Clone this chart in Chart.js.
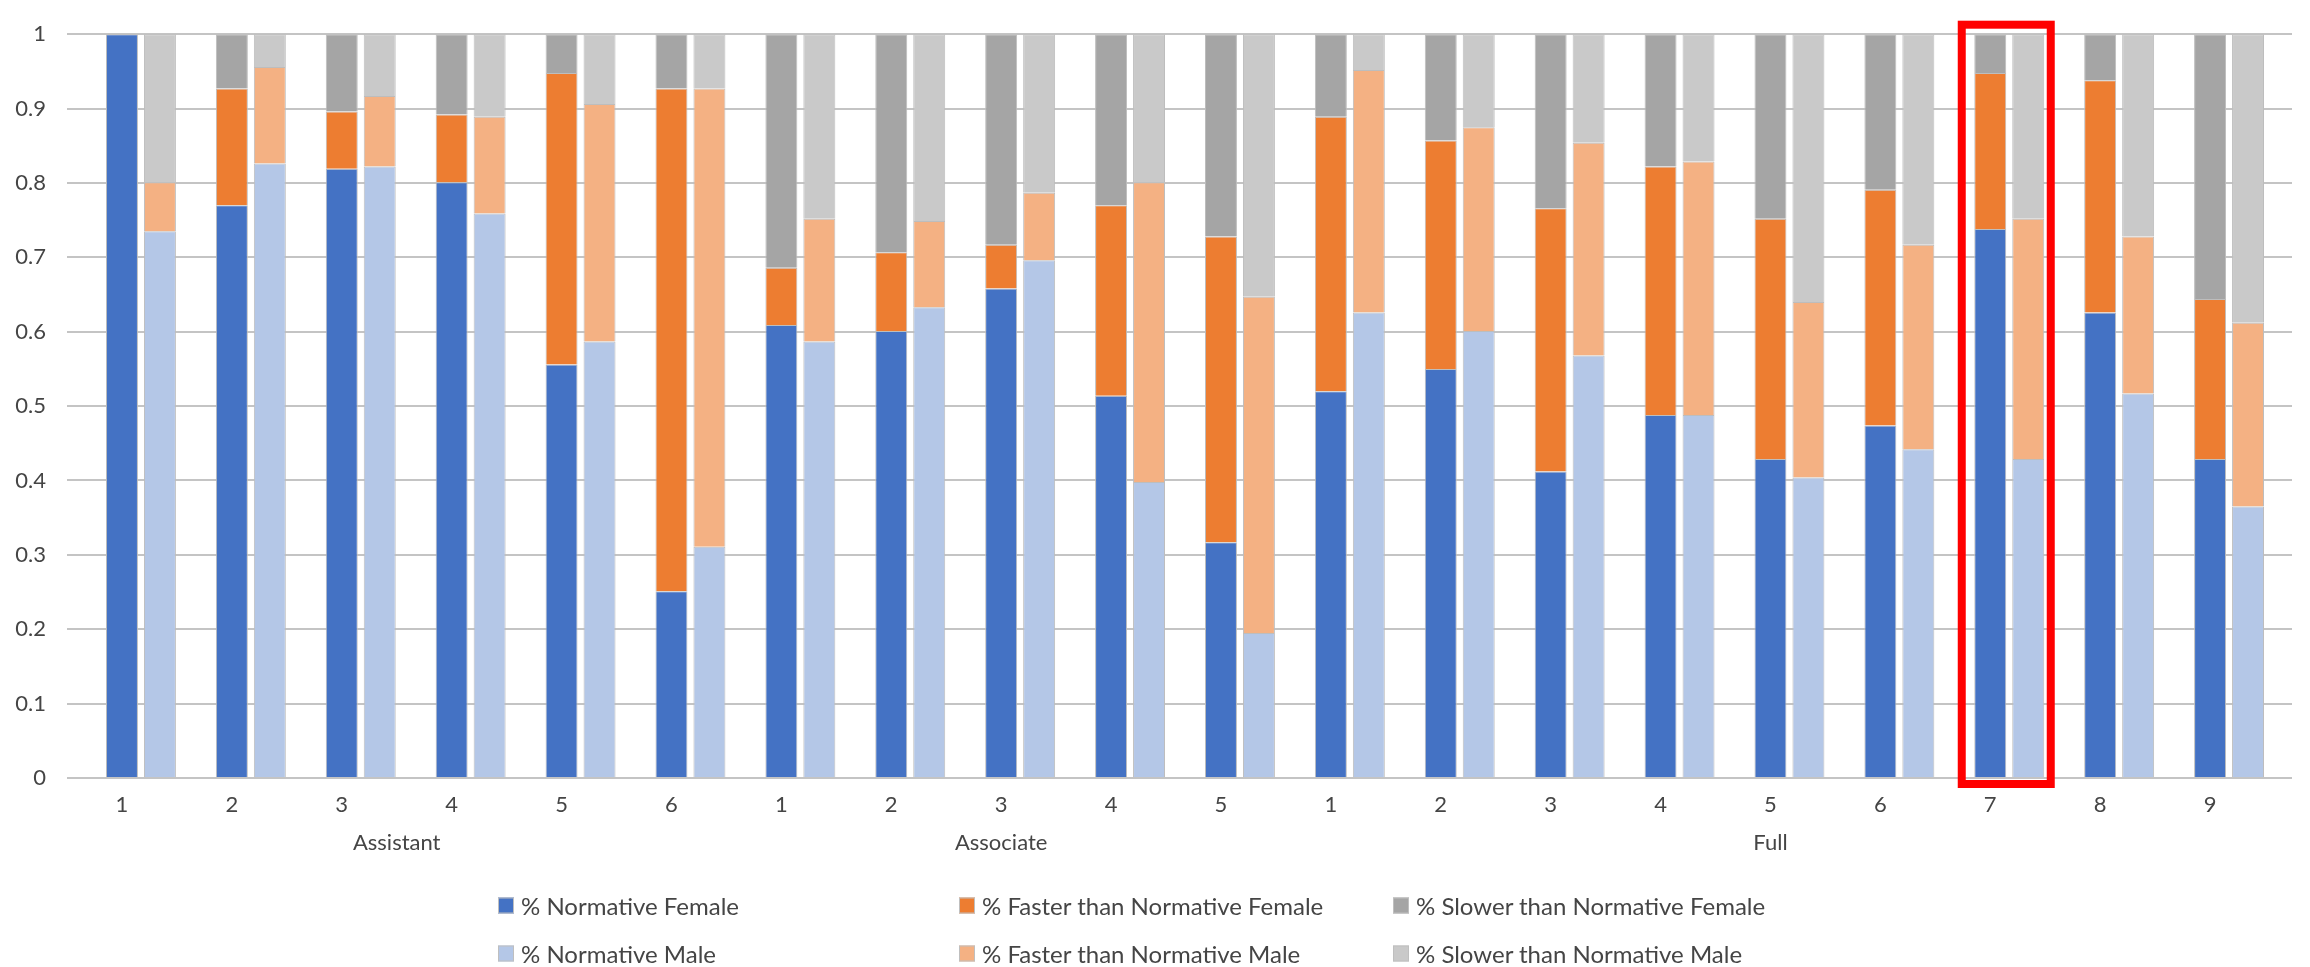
<!DOCTYPE html>
<html>
<head>
<meta charset="utf-8">
<title>Normative vs faster/slower progression by rank</title>
<script src="https://cdn.jsdelivr.net/npm/chart.js@4.4.1/dist/chart.umd.min.js"></script>
<style>
  html, body { margin: 0; padding: 0; background: #ffffff; }
  #wrap { position: relative; width: 2310px; height: 967px; overflow: hidden; }
  #c { position: absolute; left: 0; top: 0; }
  #legend { position: absolute; left: 0; top: 0; width: 2310px; height: 967px; pointer-events: none;
            font-family: Lato, "Open Sans", sans-serif; font-size: 24px; color: #454545; }
  .item { position: absolute; display: flex; align-items: center; white-space: nowrap; transform: translateY(-50%); }
  .sw { width: 16px; height: 16px; margin-right: 7px; box-sizing: border-box; border: 1px solid #bfbfbf; }
</style>
</head>
<body>
<div id="wrap">
  <canvas id="c" width="2310" height="967"></canvas>
  <div id="legend"></div>
</div>
<script>
// Category tick labels and the rank groups they belong to
const tickLabels = ['1','2','3','4','5','6', '1','2','3','4','5', '1','2','3','4','5','6','7','8','9'];
const groupNames = ['Assistant', 'Associate', 'Full'];
const groupSizes = [6, 5, 9];
const yTickLabels = ['0','0.1','0.2','0.3','0.4','0.5','0.6','0.7','0.8','0.9','1'];

// Female shares
const normativeFemale = [1.000, 0.770, 0.819, 0.801, 0.556, 0.251,
                         0.609, 0.601, 0.658, 0.514, 0.317,
                         0.520, 0.550, 0.412, 0.488, 0.429, 0.474, 0.738, 0.626, 0.429];
const fasterFemale    = [0.000, 0.157, 0.077, 0.091, 0.392, 0.676,
                         0.077, 0.106, 0.059, 0.256, 0.411,
                         0.369, 0.307, 0.354, 0.334, 0.323, 0.317, 0.210, 0.312, 0.215];
const slowerFemale    = [0.000, 0.073, 0.104, 0.108, 0.052, 0.073,
                         0.314, 0.293, 0.283, 0.230, 0.272,
                         0.111, 0.143, 0.234, 0.178, 0.248, 0.209, 0.052, 0.062, 0.356];

// Male shares
const normativeMale   = [0.735, 0.826, 0.822, 0.759, 0.587, 0.311,
                         0.587, 0.633, 0.696, 0.398, 0.195,
                         0.626, 0.601, 0.568, 0.488, 0.404, 0.442, 0.429, 0.517, 0.365];
const fasterMale      = [0.066, 0.130, 0.095, 0.130, 0.319, 0.616,
                         0.165, 0.116, 0.091, 0.403, 0.452,
                         0.326, 0.274, 0.286, 0.341, 0.236, 0.275, 0.323, 0.211, 0.247];
const slowerMale      = [0.199, 0.044, 0.083, 0.111, 0.094, 0.073,
                         0.248, 0.251, 0.213, 0.199, 0.353,
                         0.048, 0.125, 0.146, 0.171, 0.360, 0.283, 0.248, 0.272, 0.388];

// Category outlined in red (Full, 7)
const highlightIndex = 17;

const TEXT = '#454545';
const FONT = { family: 'Lato, "Open Sans", sans-serif', size: 22 };
const GRID = '#c4c4c4';
const LABEL_SHIFT = -19;

function ds(label, data, color, stack) {
  return {
    label, data, stack,
    backgroundColor: color,
    borderColor: '#bdbdbd',
    borderWidth: 1,
    categoryPercentage: 0.691,
    barPercentage: 0.842
  };
}

// Group captions under the numeric tick labels
const groupLabelPlugin = {
  id: 'groupLabels',
  afterDraw(chart) {
    const x = chart.scales.x, ctx = chart.ctx;
    ctx.save();
    ctx.font = `${FONT.size}px ${FONT.family}`;
    ctx.fillStyle = TEXT;
    ctx.textAlign = 'center';
    ctx.textBaseline = 'middle';
    let start = 0;
    groupNames.forEach((name, g) => {
      const end = start + groupSizes[g] - 1;
      const cx = (x.getPixelForValue(start) + x.getPixelForValue(end)) / 2 + LABEL_SHIFT;
      ctx.fillText(name, cx, chart.chartArea.bottom + 65);
      start = end + 1;
    });
    ctx.restore();
  }
};

// Red frame around the highlighted category
const highlightPlugin = {
  id: 'highlight',
  afterDatasetsDraw(chart) {
    const x = chart.scales.x, area = chart.chartArea, ctx = chart.ctx;
    const cx = x.getPixelForValue(highlightIndex) - 3;
    ctx.save();
    ctx.strokeStyle = '#ff0000';
    ctx.lineWidth = 8;
    ctx.strokeRect(cx - 44.5, area.top - 9.5, 89, area.bottom - area.top + 15.5);
    ctx.restore();
  }
};

const chart = new Chart(document.getElementById('c'), {
  type: 'bar',
  data: {
    labels: tickLabels,
    datasets: [
      ds('% Normative Female', normativeFemale, '#4472c4', 'F'),
      ds('% Faster than Normative Female', fasterFemale, '#ed7d31', 'F'),
      ds('% Slower than Normative Female', slowerFemale, '#a5a5a5', 'F'),
      ds('% Normative Male', normativeMale, '#b4c7e7', 'M'),
      ds('% Faster than Normative Male', fasterMale, '#f4b183', 'M'),
      ds('% Slower than Normative Male', slowerMale, '#c9c9c9', 'M')
    ]
  },
  options: {
    responsive: false,
    animation: false,
    devicePixelRatio: 1,
    layout: { padding: { top: 17.5, left: 0, right: 0, bottom: 0 } },
    plugins: { legend: { display: false }, tooltip: { enabled: false } },
    scales: {
      x: {
        stacked: true,
        grid: { display: false, drawTicks: false },
        border: { display: false },
        ticks: { font: FONT, color: TEXT, padding: 14, labelOffset: LABEL_SHIFT, maxRotation: 0, autoSkip: false },
        afterFit(s) { s.height = 189; }
      },
      y: {
        stacked: true,
        min: 0, max: 1,
        grid: { color: GRID, lineWidth: 2, tickLength: 19 },
        border: { display: false },
        ticks: { stepSize: 0.1, font: FONT, color: TEXT, padding: 21,
                 callback: (v, i) => yTickLabels[i] },
        afterFit(s) { s.width = 86; }
      },
      yRight: {
        position: 'right',
        min: 0, max: 1,
        grid: { color: GRID, lineWidth: 2, tickLength: 8, drawOnChartArea: false },
        border: { display: false },
        ticks: { stepSize: 0.1, padding: 0, callback: () => '' },
        afterFit(s) { s.width = 26; }
      }
    }
  },
  plugins: [groupLabelPlugin, highlightPlugin]
});

// Two-row, three-column legend built from the datasets
const legendCols = [498, 959, 1393];
const legendRows = [905, 953];
const legendEl = document.getElementById('legend');
chart.data.datasets.forEach((d, i) => {
  const item = document.createElement('div');
  item.className = 'item';
  item.style.left = legendCols[i % 3] + 'px';
  item.style.top = legendRows[Math.floor(i / 3)] + 'px';
  const sw = document.createElement('span');
  sw.className = 'sw';
  sw.style.background = d.backgroundColor;
  const tx = document.createElement('span');
  tx.textContent = d.label;
  item.appendChild(sw);
  item.appendChild(tx);
  legendEl.appendChild(item);
});
</script>
</body>
</html>
